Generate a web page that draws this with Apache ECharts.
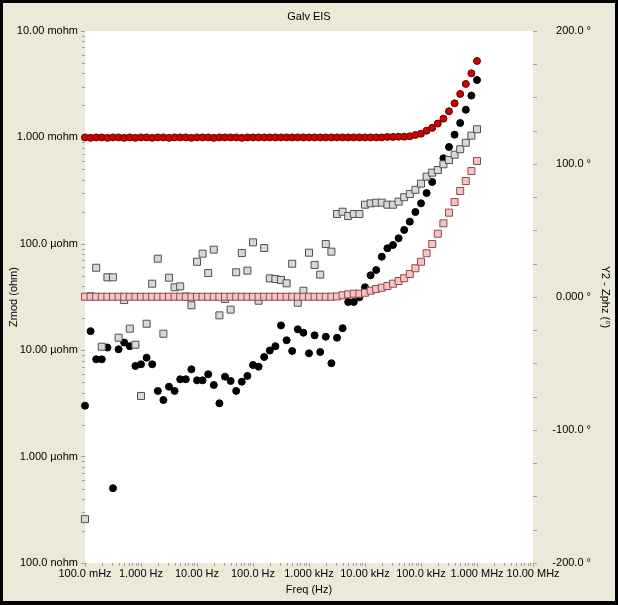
<!DOCTYPE html>
<html><head><meta charset="utf-8">
<script src="https://cdn.jsdelivr.net/npm/echarts@6/dist/echarts.min.js"></script>
<style>
html,body{margin:0;padding:0;background:#ECE9D8;}
#chart{position:absolute;left:0;top:0;width:618px;height:605px;}
#frame{position:absolute;left:0;top:0;width:618px;height:605px;box-sizing:border-box;border-style:solid;border-color:#000;border-width:3px 3px 4px 3px;pointer-events:none;}
</style></head><body>
<div id="chart"></div><div id="frame"></div>
<script>
// Frequencies (Hz), 10 points per decade
const freq = [
0.1000,0.1259,0.1585,0.1995,0.2512,0.3162,0.3981,0.5012,0.6310,0.7943,
1.000,1.259,1.585,1.995,2.512,3.162,3.981,5.012,6.310,7.943,
10.00,12.59,15.85,19.95,25.12,31.62,39.81,50.12,63.10,79.43,
100.0,125.9,158.5,199.5,251.2,316.2,398.1,501.2,631.0,794.3,
1000,1259,1585,1995,2512,3162,3981,5012,6310,7943,
10000,12590,15850,19950,25120,31620,39810,50120,63100,79430,
100000,125900,158500,199500,251200,316200,398100,501200,631000,794300,
1000000];

// Zmod curve 1 (ohm) - red circles
const zmodRed = [
1.00e-3,0.99e-3,1.00e-3,1.00e-3,0.99e-3,1.00e-3,1.00e-3,0.99e-3,1.00e-3,0.99e-3,
1.00e-3,1.00e-3,0.99e-3,1.00e-3,1.00e-3,0.99e-3,1.00e-3,1.00e-3,1.00e-3,0.99e-3,
1.00e-3,1.00e-3,1.00e-3,0.99e-3,1.00e-3,1.00e-3,1.00e-3,1.00e-3,0.99e-3,1.00e-3,
1.00e-3,1.00e-3,1.00e-3,1.00e-3,1.00e-3,1.00e-3,1.00e-3,1.00e-3,1.00e-3,1.00e-3,
1.00e-3,1.00e-3,1.00e-3,1.00e-3,1.00e-3,1.00e-3,1.00e-3,1.00e-3,1.00e-3,1.00e-3,
1.00e-3,1.00e-3,1.00e-3,1.00e-3,1.01e-3,1.01e-3,1.016e-3,1.016e-3,1.024e-3,1.054e-3,
1.084e-3,1.156e-3,1.23e-3,1.35e-3,1.50e-3,1.76e-3,2.09e-3,2.56e-3,3.18e-3,4.00e-3,
5.23e-3];

// Zmod curve 2 (ohm) - black circles
const zmodBlack = [
3.01e-6,1.51e-5,8.21e-6,8.21e-6,1.06e-5,5.04e-7,1.02e-5,1.18e-5,1.09e-5,7.11e-6,
7.37e-6,8.50e-6,7.37e-6,4.14e-6,3.40e-6,4.54e-6,4.14e-6,5.33e-6,5.33e-6,6.61e-6,
5.21e-6,5.21e-6,5.94e-6,4.71e-6,3.17e-6,5.64e-6,5.14e-6,4.14e-6,5.06e-6,5.73e-6,
7.26e-6,7.00e-6,8.63e-6,9.93e-6,1.09e-5,1.71e-5,1.24e-5,9.83e-6,1.57e-5,1.46e-5,
9.35e-6,1.38e-5,9.62e-6,1.34e-5,7.54e-6,1.31e-5,1.61e-5,2.84e-5,2.84e-5,3.14e-5,
3.90e-5,5.06e-5,5.67e-5,7.57e-5,9.08e-5,9.75e-5,1.127e-4,1.349e-4,1.615e-4,1.99e-4,
2.40e-4,3.00e-4,3.81e-4,4.94e-4,6.37e-4,8.13e-4,1.06e-3,1.365e-3,1.82e-3,2.47e-3,
3.46e-3];

// Zphz curve 2 (deg) - gray squares
const zphzGray = [
-167,0.5,22.0,-37.4,14.8,14.8,-30.6,-2.3,-23.8,-35.9,
-74.4,-20.1,10.0,28.8,-27.6,14.5,7.3,8.0,0.3,-6.2,
26.5,32.6,18.0,35.6,-13.8,-1.5,-9.5,18.6,33.1,19.8,
41.1,-2.8,36.8,14.0,13.5,12.8,10.3,25.0,-4.3,4.7,
33.3,24.1,16.8,39.8,34.1,62.4,64.1,60.9,62.4,62.4,
69.4,70.4,70.9,70.9,69.4,69.4,71.7,75.0,77.4,80.6,
85.2,90.5,93.5,95.5,99.8,103.0,107.0,111.1,116.0,121.3,
126.1];

// Zphz curve 1 (deg) - pink squares
const zphzPink = [
0.2,0.2,0.2,0.2,0.2,0.2,0.2,0.2,0.2,0.2,
0.2,0.2,0.2,0.2,0.2,0.2,0.2,0.2,0.2,0.2,
0.2,0.2,0.2,0.2,0.2,0.2,0.2,0.2,0.2,0.2,
0.2,0.2,0.2,0.2,0.2,0.2,0.2,0.2,0.2,0.2,
0.2,0.2,0.2,0.2,0.2,0.4,1.3,2.0,2.5,2.5,
3.2,4.7,6.0,7.0,8.3,10.0,12.0,14.1,17.3,21.6,
26.5,32.9,39.8,47.6,55.4,63.4,71.4,79.7,87.2,94.7,
102.3];

const xTickLabels = ['100.0 mHz','1.000 Hz','10.00 Hz','100.0 Hz','1.000 kHz','10.00 kHz','100.0 kHz','1.000 MHz','10.00 MHz'];
const yTickLabels = ['100.0 nohm','1.000 µohm','10.00 µohm','100.0 µohm','1.000 mohm','10.00 mohm'];
const y2TickLabels = ['-200.0 °','-100.0 °','0.000 °','100.0 °','200.0 °'];

const FONT = 'Liberation Sans';
const TICK = '#A0A0A0';

const minorX = [];
for (let d = -1; d < 7; d++) for (let k = 2; k < 10; k++) minorX.push([k * Math.pow(10, d), 1e-4]);
const minorY = [];
for (let d = -7; d < -2; d++) for (let k = 2; k < 10; k++) minorY.push([1, k * Math.pow(10, d)]);

function pairs(xs, ys) { return xs.map((x, i) => [x, ys[i]]); }

const chart = echarts.init(document.getElementById('chart'), null, {renderer: 'canvas'});
chart.setOption({
  backgroundColor: '#ECE9D8',
  animation: false,
  textStyle: {fontFamily: FONT, fontSize: 11, color: '#000'},
  title: {text: 'Galv EIS', left: 'center', top: 6,
    textStyle: {fontFamily: FONT, fontSize: 11, fontWeight: 'normal', color: '#000'}},
  grid: {left: 85, right: 85, top: 31, bottom: 42, containLabel: false, outerBoundsMode: 'none',
    show: true, backgroundColor: '#fff', borderWidth: 0},
  xAxis: {
    type: 'log', logBase: 10, min: 0.1, max: 1e7, splitNumber: 8,
    name: 'Freq (Hz)', nameLocation: 'middle', nameGap: 21, nameMoveOverlap: false,
    nameTextStyle: {fontFamily: FONT, fontSize: 11, color: '#000'},
    axisLine: {show: false, onZero: false},
    axisTick: {show: true, length: 4, lineStyle: {color: TICK}},
    splitLine: {show: false},
    axisLabel: {margin: 5, fontFamily: FONT, fontSize: 11, color: '#000',
      formatter: v => xTickLabels[Math.round(Math.log10(v)) + 1] || ''}
  },
  yAxis: [{
    type: 'log', logBase: 10, min: 1e-7, max: 1e-2, splitNumber: 5, position: 'left',
    name: 'Zmod (ohm)', nameLocation: 'middle', nameGap: 66, nameRotate: 90, nameMoveOverlap: false,
    nameTextStyle: {fontFamily: FONT, fontSize: 11, color: '#000'},
    axisLine: {show: false, onZero: false},
    axisTick: {show: true, length: 4, lineStyle: {color: TICK}},
    splitLine: {show: false},
    axisLabel: {margin: 7, fontFamily: FONT, fontSize: 11, color: '#000',
      formatter: v => yTickLabels[Math.round(Math.log10(v)) + 7] || ''}
  }, {
    type: 'value', min: -200, max: 200, interval: 100, position: 'right',
    name: 'Y2 - Zphz (°)', nameLocation: 'middle', nameGap: 67, nameRotate: -90, nameMoveOverlap: false,
    nameTextStyle: {fontFamily: FONT, fontSize: 11, color: '#000'},
    axisLine: {show: false, onZero: false},
    axisTick: {show: true, length: 4, lineStyle: {color: TICK}},
    minorTick: {show: true, splitNumber: 4, length: 4, lineStyle: {color: TICK}},
    splitLine: {show: false},
    axisLabel: {margin: 58, align: 'right', fontFamily: FONT, fontSize: 11, color: '#000',
      formatter: v => y2TickLabels[Math.round((v + 200) / 100)] || ''}
  }],
  series: [
    {type: 'custom', xAxisIndex: 0, yAxisIndex: 0, silent: true, clip: false, z: 1,
      data: minorX,
      renderItem: (params, api) => {
        const p = api.coord([api.value(0), api.value(1)]);
        const cs = params.coordSys; const yb = cs.y + cs.height;
        const x = Math.round(p[0]) + 0.5;
        return {type: 'line', shape: {x1: x, y1: yb, x2: x, y2: yb + 3}, style: {stroke: TICK, lineWidth: 1}};
      }},
    {type: 'custom', xAxisIndex: 0, yAxisIndex: 0, silent: true, clip: false, z: 1,
      data: minorY,
      renderItem: (params, api) => {
        const p = api.coord([api.value(0), api.value(1)]);
        const cs = params.coordSys;
        const y = Math.round(p[1]) + 0.5;
        return {type: 'line', shape: {x1: cs.x - 3, y1: y, x2: cs.x, y2: y}, style: {stroke: TICK, lineWidth: 1}};
      }},
    {name: 'Zmod 2', type: 'scatter', xAxisIndex: 0, yAxisIndex: 0, z: 2,
      symbol: 'circle', symbolSize: 7, data: pairs(freq, zmodBlack),
      itemStyle: {color: '#000', borderColor: '#000', borderWidth: 1, opacity: 1}},
    {name: 'Zphz 2', type: 'scatter', xAxisIndex: 0, yAxisIndex: 1, z: 3,
      symbol: 'rect', symbolSize: 7, data: pairs(freq, zphzGray),
      itemStyle: {color: '#D8D8D8', borderColor: '#505050', borderWidth: 1, opacity: 1}},
    {name: 'Zphz 1', type: 'scatter', xAxisIndex: 0, yAxisIndex: 1, z: 4,
      symbol: 'rect', symbolSize: 7, data: pairs(freq, zphzPink),
      itemStyle: {color: '#FFC0C0', borderColor: '#805050', borderWidth: 1, opacity: 1}},
    {name: 'Zmod 1', type: 'scatter', xAxisIndex: 0, yAxisIndex: 0, z: 5,
      symbol: 'circle', symbolSize: 7, data: pairs(freq, zmodRed),
      itemStyle: {color: '#CC0000', borderColor: '#6A0000', borderWidth: 1, opacity: 1}}
  ]
});
</script>
</body></html>
